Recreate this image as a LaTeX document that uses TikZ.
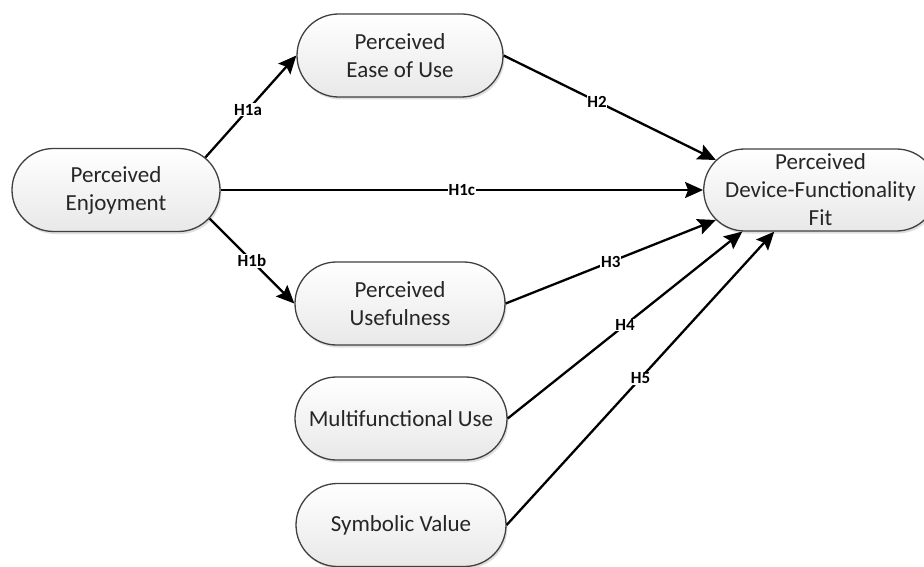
\documentclass[tikz,border=0pt]{standalone}
\usepackage{fontspec}
\setmainfont{Carlito}
\usetikzlibrary{shapes.misc,arrows.meta,shadows}
\begin{document}
\begin{tikzpicture}[x=1pt,y=-1pt,
  box/.style={rounded rectangle, draw=black!75, line width=1.3pt,
    top color=white, bottom color=black!9, minimum height=83pt,
    inner sep=0pt, align=center, font=\fontsize{23}{28}\selectfont, text=black!85,
    drop shadow={shadow xshift=1.5pt,shadow yshift=-2.5pt,opacity=0.25}},
  link/.style={line width=2.3pt, -{Stealth[length=18pt,width=16pt,inset=3pt]}},
  hyp/.style={font=\fontsize{17}{19}\selectfont\bfseries, fill=white, inner sep=0.8pt}]
\useasboundingbox (0,0) rectangle (924,567);

\node[box, minimum width=208pt] (enj) at (116,190) {Perceived\\Enjoyment};
\node[box, minimum width=206pt] (ease) at (400,55.5) {Perceived\\Ease of Use};
\node[box, minimum width=210pt] (use) at (400,303.5) {Perceived\\Usefulness};
\node[box, minimum width=212pt] (multi) at (401,418.5) {Multifunctional Use};
\node[box, minimum width=210pt] (sym) at (401,525) {Symbolic Value};
\node[box, minimum width=199pt, minimum height=82pt] (dff) at (820.5,190) {Perceived\\Device-Functionality\\Fit};

\draw[link] (enj.20) -- node[hyp, pos=0.47] {H1a} (ease.west);
\draw[link] (enj.-17) -- node[hyp, pos=0.5] {H1b} (use.west);
\draw[link] (enj.east) -- node[hyp, pos=0.5] {H1c} (dff.west);
\draw[link] (ease.east) -- node[hyp, pos=0.44] {H2} (dff.164);
\draw[link] (use.east) -- node[hyp, pos=0.5] {H3} (dff.196);
\draw[link] (multi.east) -- node[hyp, pos=0.5] {H4} (dff.208);
\draw[link] (sym.east) -- node[hyp, pos=0.5] {H5} (dff.222);
\end{tikzpicture}
\end{document}
